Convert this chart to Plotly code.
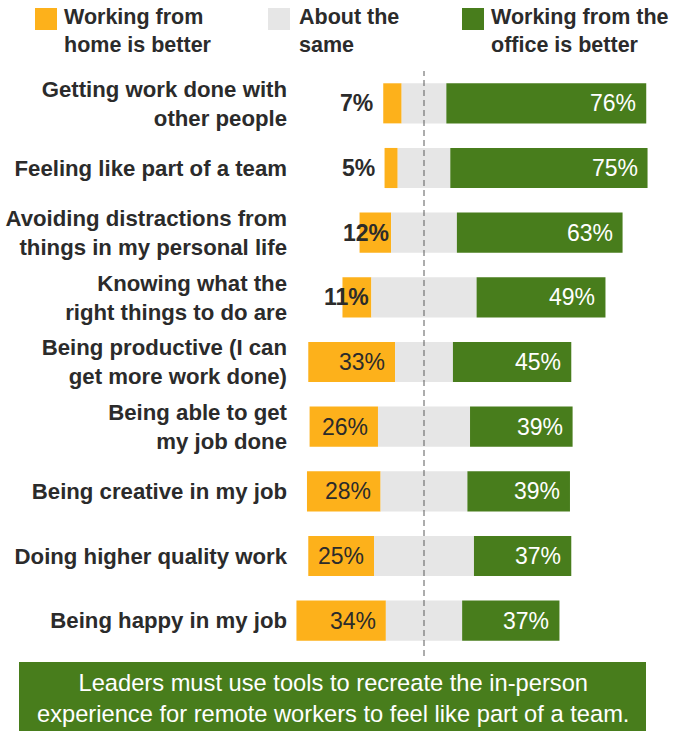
import plotly.graph_objects as go

# Survey: where is each activity easier to do?
categories = [
    "Getting work done with<br>other people",
    "Feeling like part of a team",
    "Avoiding distractions from<br>things in my personal life",
    "Knowing what the<br>right things to do are",
    "Being productive (I can<br>get more work done)",
    "Being able to get<br>my job done",
    "Being creative in my job",
    "Doing higher quality work",
    "Being happy in my job",
]
home_better = [7, 5, 12, 11, 33, 26, 28, 25, 34]
about_same = [17, 20, 25, 40, 22, 35, 33, 38, 29]
office_better = [76, 75, 63, 49, 45, 39, 39, 37, 37]

series_names = [
    "Working from<br>home is better",
    "About the<br>same",
    "Working from the<br>office is better",
]

ORANGE = "#FDB11B"
GRAY = "#E6E6E6"
GREEN = "#487D1C"
TEXT = "#2B2B2B"
FONT = "Liberation Sans"

W, H = 688, 731
L, R, T, B = 292, 28, 71, 78
PW, PH = W - L - R, H - T - B


def px(x):
    """Pixel column -> paper x."""
    return (x - L) / PW


def py(y):
    """Pixel row (from top) -> paper y."""
    return (H - B - y) / PH


# "About the same" is centred on zero; the other two segments extend from it
same_base = [-s / 2 for s in about_same]
home_base = [-s / 2 - h for s, h in zip(about_same, home_better)]
office_base = [s / 2 for s in about_same]

fig = go.Figure()
for vals, base, color, name in [
    (home_better, home_base, ORANGE, series_names[0]),
    (about_same, same_base, GRAY, series_names[1]),
    (office_better, office_base, GREEN, series_names[2]),
]:
    fig.add_trace(go.Bar(
        y=categories, x=vals, base=base, orientation="h",
        marker=dict(color=color, line=dict(width=0)),
        name=name, showlegend=False, hoverinfo="skip",
    ))

annotations = []
label_font = dict(family=FONT, size=23)

# value labels for the office segment (white, at the right end)
for cat, b, v in zip(categories, office_base, office_better):
    annotations.append(dict(
        x=b + v, y=cat, xref="x", yref="y", text=f"{v}%",
        xanchor="right", xshift=-8, showarrow=False,
        font=dict(**label_font, color="white"),
    ))

# value labels for the home segment
for cat, b, v in zip(categories, home_base, home_better):
    if v >= 20:
        annotations.append(dict(
            x=b + v, y=cat, xref="x", yref="y", text=f"{v}%",
            xanchor="right", xshift=-8, showarrow=False,
            font=dict(**label_font, color=TEXT),
        ))
    elif v >= 10:
        annotations.append(dict(
            x=b + v, y=cat, xref="x", yref="y", text=f"{v}%",
            xanchor="right", xshift=0, showarrow=False,
            font=dict(**label_font, color=TEXT, weight="bold"),
        ))
    else:
        annotations.append(dict(
            x=b, y=cat, xref="x", yref="y", text=f"{v}%",
            xanchor="right", xshift=-8, showarrow=False,
            font=dict(**label_font, color=TEXT, weight="bold"),
        ))

shapes = [
    # zero reference line
    dict(type="line", xref="x", yref="paper", x0=0, x1=0, y0=py(656), y1=1,
         line=dict(color="#5A5A5A", width=1, dash="6px,4px")),
    # takeaway box
    dict(type="rect", xref="paper", yref="paper",
         x0=px(19), x1=px(646), y0=py(731), y1=py(662),
         fillcolor=GREEN, line=dict(width=0), layer="below"),
]

# legend swatches and labels
for color, name, sx, tx in [
    (ORANGE, series_names[0], 35, 62),
    (GRAY, series_names[1], 268, 297),
    (GREEN, series_names[2], 462, 489),
]:
    shapes.append(dict(type="rect", xref="paper", yref="paper",
                       x0=px(sx), x1=px(sx + 22), y0=py(30), y1=py(8),
                       fillcolor=color, line=dict(width=0)))
    annotations.append(dict(
        x=px(tx), y=py(3), xref="paper", yref="paper", text=name,
        xanchor="left", yanchor="top", align="left", showarrow=False,
        font=dict(family=FONT, size=21.5, color=TEXT, weight="bold"),
    ))

annotations.append(dict(
    x=px(333), y=py(698), xref="paper", yref="paper",
    text="Leaders must use tools to recreate the in-person<br>"
         "experience for remote workers to feel like part of a team.",
    xanchor="center", yanchor="middle", align="center", showarrow=False,
    font=dict(family=FONT, size=23.7, color="white"),
))

fig.update_layout(
    width=W, height=H,
    margin=dict(l=L, r=R, t=T, b=B),
    paper_bgcolor="white", plot_bgcolor="white",
    barmode="overlay", bargap=0.38,
    xaxis=dict(range=[-(424 - L) / 2.63, (W - R - 424) / 2.63],
               visible=False, fixedrange=True, automargin=False),
    yaxis=dict(categoryorder="array", categoryarray=categories,
               autorange="reversed", showgrid=False, zeroline=False,
               showline=False, ticks="", ticklabelstandoff=4,
               automargin=False,
               tickfont=dict(family=FONT, size=22.2, color=TEXT, weight="bold")),
    shapes=shapes, annotations=annotations,
)

fig.write_html("out.html")
